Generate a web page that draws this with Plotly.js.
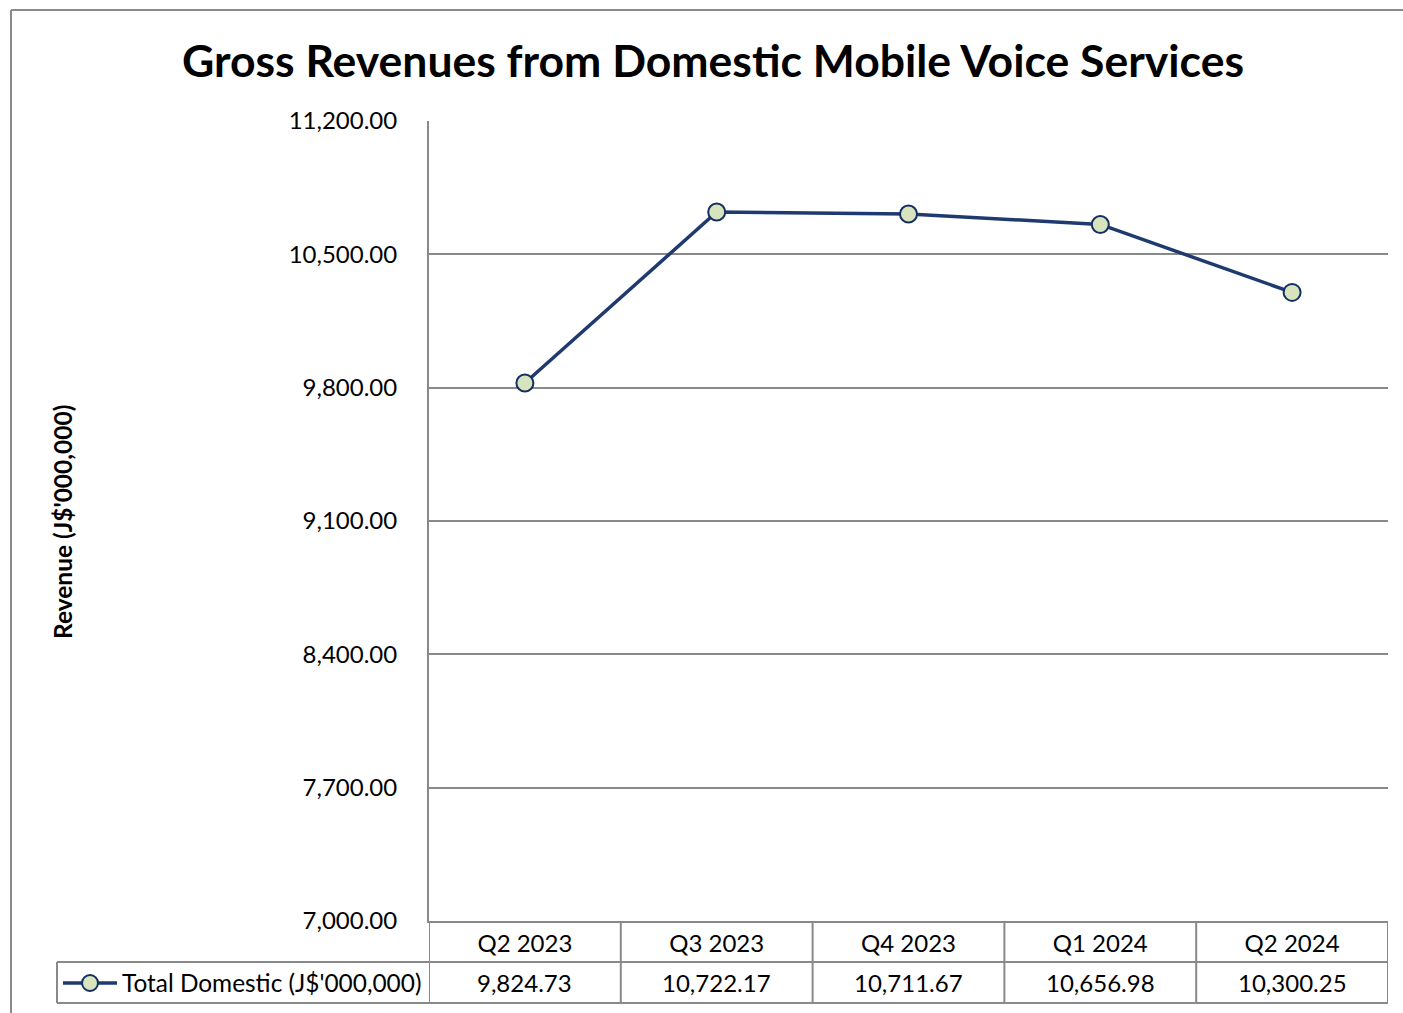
<!DOCTYPE html>
<html>
<head>
<meta charset="utf-8">
<script src="https://cdn.plot.ly/plotly-3.0.1.min.js"></script>
<style>
html,body{margin:0;padding:0;background:#fff;}
#chart{width:1403px;height:1013px;}
</style>
</head>
<body>
<div id="chart"></div>
<script>
// ---- data ----
var categories = ["Q2 2023", "Q3 2023", "Q4 2023", "Q1 2024", "Q2 2024"];
var values = [9824.73, 10722.17, 10711.67, 10656.98, 10300.25];
var valueLabels = ["9,824.73", "10,722.17", "10,711.67", "10,656.98", "10,300.25"];
var seriesName = "Total Domestic (J$'000,000)";
var yTicks = [7000, 7700, 8400, 9100, 9800, 10500, 11200];
var titleText = "Gross Revenues from Domestic Mobile Voice Services";
var yTitleText = "Revenue (J$'000,000)";

// ---- layout helpers (pixel -> paper) ----
var W = 1403, H = 1013;
var L = 429, R = 1388, T = 121, B = 921;
function px(x){ return (x - L) / (R - L); }
function py(y){ return (B - y) / (B - T); }

var FONT = "Lato, 'Open Sans', sans-serif";
var GRID = "#898989";
var LINE = "#1f3a6e";

var trace = {
  x: categories.map(function(c, i){ return i; }),
  y: values,
  type: "scatter",
  mode: "lines+markers",
  name: seriesName,
  line: {color: LINE, width: 3.5},
  marker: {symbol: "circle", size: 17, color: "#d7e4bd", line: {color: "#142f62", width: 2}},
  showlegend: false,
  hoverinfo: "x+y"
};

var shapes = [];
function seg(x0, y0, x1, y1, xref, yref, color, w){
  shapes.push({type: "line", xref: xref, yref: yref, x0: x0, y0: y0, x1: x1, y1: y1,
    line: {color: color, width: w}});
}
// outer chart border (left + top)
seg(px(11), py(10), px(11), py(1013), "paper", "paper", "#8a8a8a", 2);
seg(px(11), py(10), px(1403), py(10), "paper", "paper", "#8a8a8a", 2);
// data table lines
var rowMid = py(962), rowBot = py(1003);
for (var i = 0; i <= categories.length; i++) {
  seg(i - 0.5, 0, i - 0.5, rowBot, "x", "paper", GRID, 2);
}
seg(px(57), rowMid, 1, rowMid, "paper", "paper", GRID, 2);
seg(px(57), rowBot, 1, rowBot, "paper", "paper", GRID, 2);
seg(px(57), rowMid, px(57), rowBot, "paper", "paper", GRID, 2);
// legend key in table
seg(px(63), py(983), px(117), py(983), "paper", "paper", LINE, 3.5);
shapes.push({type: "circle", xref: "paper", yref: "paper",
  x0: px(82), x1: px(98), y0: py(991), y1: py(975),
  fillcolor: "#d7e4bd", line: {color: "#142f62", width: 2}});

var annotations = [];
// value row
for (var j = 0; j < categories.length; j++) {
  annotations.push({xref: "x", yref: "paper", x: j, y: py(983), text: valueLabels[j],
    showarrow: false, xanchor: "center", yanchor: "middle",
    font: {family: FONT, size: 24, color: "#000"}});
}
// legend text
annotations.push({xref: "paper", yref: "paper", x: px(120), y: py(983), text: seriesName,
  showarrow: false, xanchor: "left", yanchor: "middle",
  font: {family: FONT, size: 24.4, color: "#000"}});
// y axis title
annotations.push({xref: "paper", yref: "paper", x: px(62), y: py(522), text: "<b>" + yTitleText + "</b>",
  showarrow: false, textangle: -90, xanchor: "center", yanchor: "middle",
  font: {family: FONT, size: 24.5, color: "#000"}});

var layout = {
  width: W, height: H,
  margin: {l: L, r: W - R, t: T, b: H - B, pad: 0},
  paper_bgcolor: "#fff", plot_bgcolor: "#fff",
  font: {family: FONT, color: "#000"},
  title: {text: "<b>" + titleText + "</b>", x: 713 / W, xanchor: "center",
    y: 1 - 61 / H, yanchor: "middle", font: {family: FONT, size: 44.5, color: "#000"}},
  xaxis: {
    type: "linear", range: [-0.5, categories.length - 0.5],
    tickmode: "array", tickvals: categories.map(function(c, i){ return i; }), ticktext: categories,
    showgrid: false, zeroline: false, showline: true, linecolor: GRID, linewidth: 2,
    ticks: "", ticklabelstandoff: 0,
    tickfont: {family: FONT, size: 24, color: "#000"}, fixedrange: true
  },
  yaxis: {
    range: [7000, 11200], tickmode: "array", tickvals: yTicks,
    tickformat: ",.2f", showgrid: true, gridcolor: GRID, gridwidth: 1.5,
    zeroline: false, showline: true, linecolor: GRID, linewidth: 2,
    ticks: "", ticklabelstandoff: 25,
    tickfont: {family: FONT, size: 24, color: "#000"}, fixedrange: true
  },
  shapes: shapes,
  annotations: annotations,
  showlegend: false
};

Plotly.newPlot("chart", [trace], layout, {displayModeBar: false, staticPlot: false});
</script>
</body>
</html>
